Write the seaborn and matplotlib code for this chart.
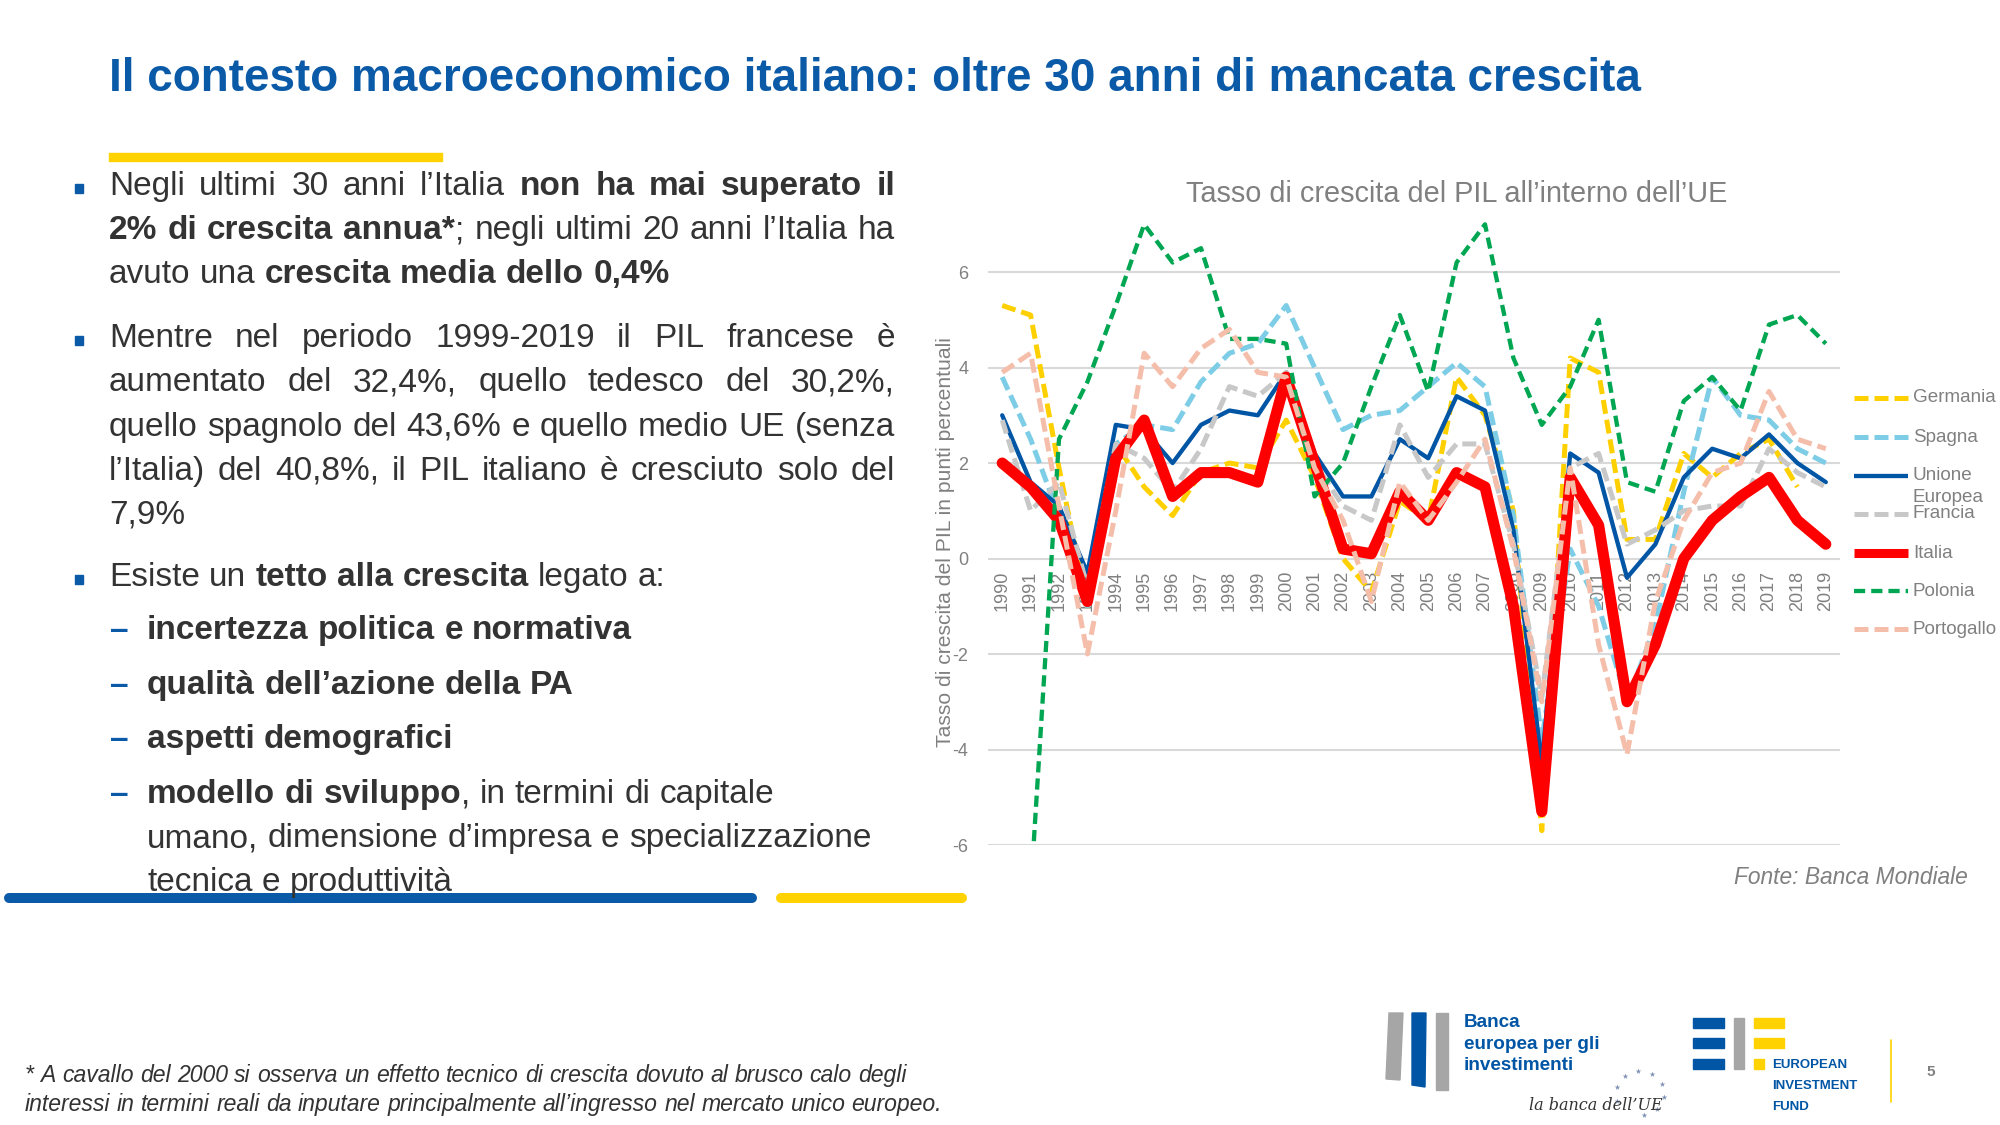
import numpy as np
import pandas as pd
import matplotlib.pyplot as plt
import seaborn as sns
from matplotlib.patches import Rectangle, Polygon

plt.rcParams['font.family'] = ['Liberation Sans', 'DejaVu Sans']
plt.rcParams['lines.solid_capstyle'] = 'round'
plt.rcParams['lines.solid_joinstyle'] = 'round'
plt.rcParams['lines.dash_joinstyle'] = 'round'
plt.rcParams['axes.unicode_minus'] = False

# tassi di crescita del PIL (%), Banca Mondiale
anni = list(range(1990, 2020))
germania = [5.3, 5.1, 1.9, -1.0, 2.4, 1.5, 0.9, 1.8, 2.0, 1.9, 2.9, 1.7, 0.0, -0.7, 1.2, 0.8, 3.8, 3.0, 1.0, -5.7,
            4.2, 3.9, 0.4, 0.4, 2.2, 1.7, 2.2, 2.5, 1.5, np.nan]
spagna = [3.8, 2.5, 0.9, -1.0, 2.4, 2.8, 2.7, 3.7, 4.3, 4.5, 5.3, 4.0, 2.7, 3.0, 3.1, 3.6, 4.1, 3.6, 0.9, -3.8,
          0.2, -1.0, -3.0, -1.4, 1.4, 3.8, 3.0, 2.9, 2.3, 2.0]
ue = [3.0, 1.6, 1.1, -0.3, 2.8, 2.7, 2.0, 2.8, 3.1, 3.0, 3.9, 2.2, 1.3, 1.3, 2.5, 2.1, 3.4, 3.1, 0.6, -4.3,
      2.2, 1.8, -0.4, 0.3, 1.7, 2.3, 2.1, 2.6, 2.0, 1.6]
francia = [2.9, 1.0, 1.6, -0.6, 2.4, 2.1, 1.4, 2.3, 3.6, 3.4, 3.9, 2.0, 1.1, 0.8, 2.8, 1.7, 2.4, 2.4, 0.3, -2.9,
           1.9, 2.2, 0.3, 0.6, 1.0, 1.1, 1.1, 2.3, 1.8, 1.5]
italia = [2.0, 1.5, 0.8, -0.9, 2.1, 2.9, 1.3, 1.8, 1.8, 1.6, 3.8, 2.0, 0.2, 0.1, 1.4, 0.8, 1.8, 1.5, -1.0, -5.3,
          1.7, 0.7, -3.0, -1.8, 0.0, 0.8, 1.3, 1.7, 0.8, 0.3]
polonia = [np.nan, -7.0, 2.5, 3.7, 5.3, 7.0, 6.2, 6.5, 4.6, 4.6, 4.5, 1.3, 2.0, 3.6, 5.1, 3.5, 6.2, 7.0, 4.2, 2.8,
           3.6, 5.0, 1.6, 1.4, 3.3, 3.8, 3.1, 4.9, 5.1, 4.5]
portogallo = [3.9, 4.3, 1.1, -2.0, 1.0, 4.3, 3.6, 4.4, 4.8, 3.9, 3.8, 1.9, 0.8, -0.9, 1.6, 0.8, 1.6, 2.5, 0.2, -3.0,
              1.9, -1.8, -4.1, -0.9, 0.8, 1.8, 2.0, 3.5, 2.5, 2.3]

paesi = ['Germania', 'Spagna', 'Unione Europea', 'Francia', 'Italia', 'Polonia', 'Portogallo']
serie = [germania, spagna, ue, francia, italia, polonia, portogallo]
colori = {'Germania': '#FFD000', 'Spagna': '#7ECDE6', 'Unione Europea': '#0055A5', 'Francia': '#C8C8C8',
          'Italia': '#FF0000', 'Polonia': '#00A651', 'Portogallo': '#F5BEAA'}
spessori = {'Germania': 3.6, 'Spagna': 3.6, 'Unione Europea': 3.1, 'Francia': 3.6,
            'Italia': 8.0, 'Polonia': 3.1, 'Portogallo': 3.6}
tratti = {'Germania': (2.8, 1.2), 'Spagna': (2.8, 1.2), 'Unione Europea': '', 'Francia': (2.8, 1.2),
          'Italia': '', 'Polonia': (2.6, 1.4), 'Portogallo': (2.8, 1.2)}

df = pd.DataFrame({'anno': np.tile(anni, len(paesi)),
                   'paese': np.repeat(paesi, len(anni)),
                   'crescita': np.concatenate(serie)})

BLU = '#0A5AA8'
GIALLO = '#FFD200'
TESTO = '#333333'
GRIGIO = '#808080'

fig = plt.figure(figsize=(20, 11.25), dpi=100)
bg = fig.add_axes([0, 0, 1, 1])
bg.set_xlim(0, 2000)
bg.set_ylim(1125, 0)
bg.axis('off')
r = fig.canvas.get_renderer()


def riga(pezzi, x, y, size, x_fine=None, color=TESTO, style='normal'):
    # pezzi = [(testo, grassetto)], parole giustificate se x_fine
    parole = []
    attacca = False
    for t, b in pezzi:
        for i, p in enumerate(t.split(' ')):
            if i > 0:
                attacca = False
            if p:
                if attacca and parole:
                    parole[-1].append((p, b))
                else:
                    parole.append([(p, b)])
                attacca = True
    oggetti = []
    larghezze = []
    for parola in parole:
        ob = []
        w = 0
        for p, b in parola:
            t = bg.text(0, y, p, fontsize=size, color=color, fontstyle=style,
                        fontweight='bold' if b else 'normal', va='baseline', ha='left')
            ww = t.get_window_extent(r).width
            ob.append((t, ww))
            w += ww
        oggetti.append(ob)
        larghezze.append(w)
    a = bg.text(0, y, 'a a', fontsize=size, fontstyle=style)
    aa = bg.text(0, y, 'aa', fontsize=size, fontstyle=style)
    spazio = a.get_window_extent(r).width - aa.get_window_extent(r).width
    a.remove()
    aa.remove()
    if x_fine is not None and len(parole) > 1:
        spazio = (x_fine - x - sum(larghezze)) / (len(parole) - 1)
    cx = x
    for ob, w in zip(oggetti, larghezze):
        px = cx
        for t, ww in ob:
            t.set_x(px)
            px += ww
        cx += w + spazio


def quadratino(y):
    bg.add_patch(Rectangle((75, y - 11), 8, 9, color=BLU))


# titolo
bg.text(109, 91, 'Il contesto macroeconomico italiano: oltre 30 anni di mancata crescita',
        fontsize=33, fontweight='bold', color=BLU, va='baseline')
bg.add_patch(Rectangle((109, 153), 333, 8, color=GIALLO))

DX = 895
S = 24
quadratino(195)
riga([('Negli ultimi 30 anni l’Italia ', False), ('non ha mai superato il', True)], 109, 195, S, DX)
riga([('2% di crescita annua*', True), ('; negli ultimi 20 anni l’Italia ha', False)], 109, 239, S, DX)
riga([('avuto una ', False), ('crescita media dello 0,4%', True)], 109, 283, S)

quadratino(347)
riga([('Mentre nel periodo 1999-2019 il PIL francese è', False)], 109, 347, S, DX)
riga([('aumentato del 32,4%, quello tedesco del 30,2%,', False)], 109, 391, S, DX)
riga([('quello spagnolo del 43,6% e quello medio UE (senza', False)], 109, 436, S, DX)
riga([('l’Italia) del 40,8%, il PIL italiano è cresciuto solo del', False)], 109, 480, S, DX)
riga([('7,9%', False)], 109, 524, S)

quadratino(586)
riga([('Esiste un ', False), ('tetto alla crescita', True), (' legato a:', False)], 109, 586, S)

sotto = [([('incertezza politica e normativa', True)], 639, True),
         ([('qualità dell’azione della PA', True)], 694, True),
         ([('aspetti demografici', True)], 748, True),
         ([('modello di sviluppo', True), (', in termini di capitale', False)], 803, True),
         ([('umano, dimensione d’impresa e specializzazione', False)], 847, False),
         ([('tecnica e produttività', False)], 891, False)]
for pezzi, y, trattino in sotto:
    if trattino:
        bg.text(110, y, '–', fontsize=S, fontweight='bold', color=BLU, va='baseline')
    riga(pezzi, 147, y, S)

# barre in basso
bg.plot([9, 752], [898, 898], color=BLU, lw=7.2, solid_capstyle='round')
bg.plot([781, 962], [898, 898], color=GIALLO, lw=7.2, solid_capstyle='round')

# nota
riga([('* A cavallo del 2000 si osserva un effetto tecnico di crescita dovuto al brusco calo degli', False)],
     25, 1082, 16.6, style='italic')
riga([('interessi in termini reali da inputare principalmente all’ingresso nel mercato unico europeo.', False)],
     25, 1111, 16.6, style='italic')

# grafico
ax = fig.add_axes([988 / 2000, (1125 - 845) / 1125, 852 / 2000, (845 - 210) / 1125])
ax.patch.set_alpha(0)
sns.lineplot(data=df, x='anno', y='crescita', hue='paese', style='paese', size='paese',
             hue_order=paesi, style_order=paesi, size_order=paesi,
             palette=colori, dashes=tratti, sizes=spessori, errorbar=None,
             legend=False, dash_capstyle='butt', ax=ax)
ax.spines['bottom'].set_position(('data', 0))
for s in ax.spines.values():
    s.set_visible(False)
ax.set_xlim(1989.5, 2019.5)
ax.set_ylim(-6, 7.3)
ax.set_yticks(range(-6, 7, 2))
ax.set_xticks(anni)
ax.set_xticklabels([str(a) for a in anni])
ax.tick_params(length=0, labelcolor=GRIGIO, labelsize=13)
ax.tick_params(axis='x', pad=9, labelrotation=90)
ax.tick_params(axis='y', pad=14)
ax.grid(axis='y', color='#D9D9D9', lw=1.5)
ax.set_axisbelow(True)
ax.set_xlabel('')
ax.set_ylabel('Tasso di crescita del PIL in punti percentuali', fontsize=15.2, color=GRIGIO)
ax.yaxis.set_label_coords(-0.039, 0.477)

bg.text(1457, 194, 'Tasso di crescita del PIL all’interno dell’UE', fontsize=20.8, color=GRIGIO,
        ha='center', va='center')

# legenda
leg_y = [398, 437, 476, 514, 553, 591, 629]
for p, y in zip(paesi, leg_y):
    ls = '-' if tratti[p] == '' else (0, tratti[p])
    lw = 6.5 if p == 'Italia' else spessori[p]
    bg.plot([1854, 1908], [y, y], color=colori[p], lw=lw, ls=ls, dash_capstyle='butt',
            solid_capstyle='butt')
    etichetta = 'Unione' if p == 'Unione Europea' else p
    bg.text(1913, y, etichetta, fontsize=13.6, color=GRIGIO, va='center')
bg.text(1913, 497, 'Europea', fontsize=13.6, color=GRIGIO, va='center')

bg.text(1968, 877, 'Fonte: Banca Mondiale', fontsize=16.4, color=GRIGIO, style='italic',
        ha='right', va='center')

# loghi
bg.add_patch(Polygon([(1389, 1013), (1403, 1013), (1400, 1080), (1386, 1079)], color='#A6A6A6'))
bg.add_patch(Polygon([(1412, 1013), (1426, 1013), (1425, 1087), (1412, 1085)], color='#0055A5'))
bg.add_patch(Rectangle((1436, 1013), 12, 77, color='#A6A6A6'))
for testo, y in zip(['Banca', 'europea per gli', 'investimenti'], [1027, 1049, 1070]):
    bg.text(1464, y, testo, fontsize=13.6, fontweight='bold', color='#0055A5', va='baseline')
bg.text(1529, 1110, 'la banca dell’UE', fontsize=11.5, style='italic', family='DejaVu Serif',
        color='#333333', va='baseline')
ang = np.linspace(-80, 200, 9) * np.pi / 180
bg.scatter(1640 + 24 * np.cos(ang), 1093 - 22 * np.sin(ang), marker='*', s=18, color='#7F8FB5', lw=0)

for y in [1018, 1038, 1059]:
    bg.add_patch(Rectangle((1693, y), 31, 10, color='#0055A5'))
bg.add_patch(Rectangle((1734, 1018), 10, 51, color='#A6A6A6'))
bg.add_patch(Rectangle((1754, 1018), 30, 10, color=GIALLO))
bg.add_patch(Rectangle((1754, 1038), 30, 10, color=GIALLO))
bg.add_patch(Rectangle((1754, 1059), 10, 10, color=GIALLO))
for testo, y in zip(['EUROPEAN', 'INVESTMENT', 'FUND'], [1068, 1089, 1110]):
    bg.text(1772, y, testo, fontsize=9.5, fontweight='bold', color='#0055A5', va='baseline')
bg.plot([1891, 1891], [1040, 1102], color=GIALLO, lw=1.2)
bg.text(1931, 1072, '5', fontsize=11, fontweight='bold', color=GRIGIO, ha='center', va='center')

fig.savefig('out.png', dpi=100)
